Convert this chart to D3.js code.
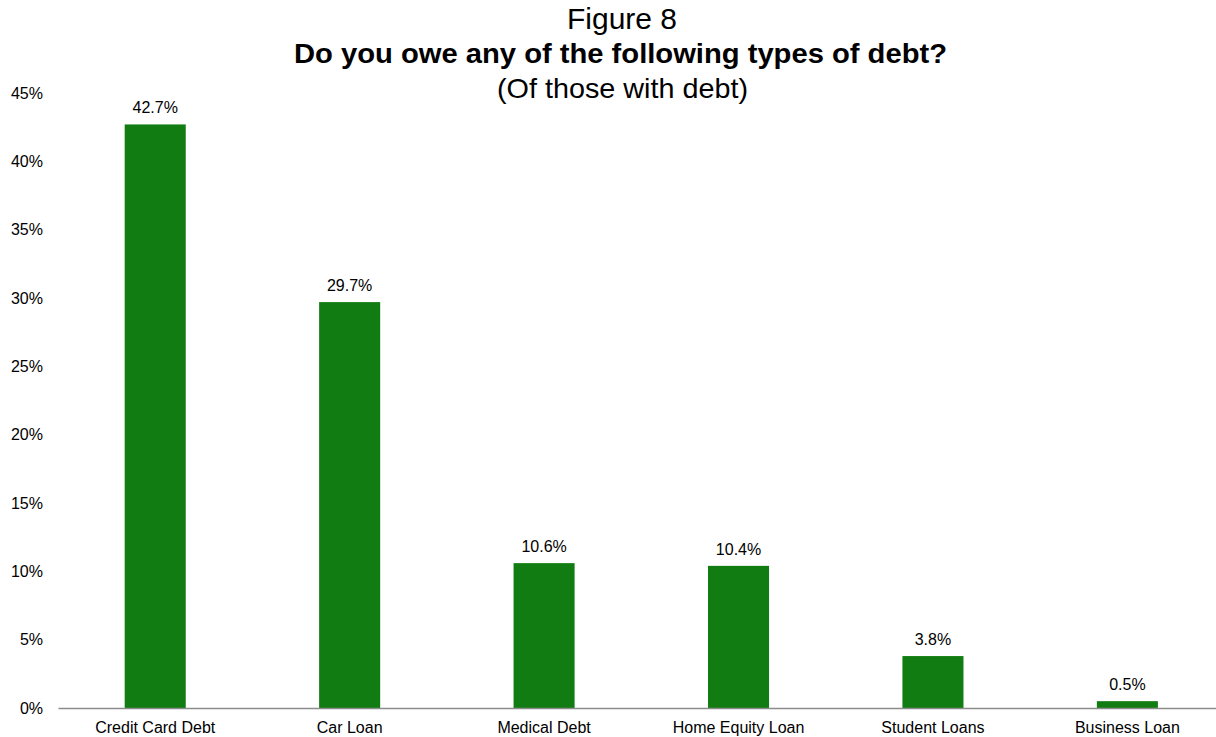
<!DOCTYPE html>
<html>
<head>
<meta charset="utf-8">
<script src="https://cdn.jsdelivr.net/npm/d3@7/dist/d3.min.js"></script>
<style>
  html, body { margin: 0; padding: 0; background: #ffffff; }
  svg { display: block; font-family: "Liberation Sans", Arial, sans-serif; }
</style>
</head>
<body>
<svg id="chart" width="1216" height="737"></svg>
<script>
// Debt types held by respondents who have debt
const categories = ["Credit Card Debt", "Car Loan", "Medical Debt", "Home Equity Loan", "Student Loans", "Business Loan"];
const shares = [42.7, 29.7, 10.6, 10.4, 3.8, 0.5];
const yTicks = [0, 5, 10, 15, 20, 25, 30, 35, 40, 45];
const titleLines = ["Figure 8", "Do you owe any of the following types of debt?", "(Of those with debt)"];

const svg = d3.select("#chart");
const plot = { left: 58, right: 1224.6, top: 93, bottom: 708 };

const x = d3.scaleBand()
  .domain(categories)
  .range([plot.left, plot.right])
  .paddingInner(0.686)
  .paddingOuter(0.343);

const y = d3.scaleLinear()
  .domain([0, 45])
  .range([plot.bottom, plot.top]);

// Y axis: labels only
const yAxis = svg.append("g")
  .attr("transform", `translate(${plot.left},0)`)
  .call(d3.axisLeft(y).tickValues(yTicks).tickSize(0).tickPadding(15).tickFormat(d => d + "%"));
yAxis.select(".domain").remove();
yAxis.selectAll("text")
  .attr("font-size", 16)
  .attr("font-family", "Liberation Sans, Arial, sans-serif")
  .attr("fill", "#000");

// Bars
svg.append("g").selectAll("rect")
  .data(categories)
  .join("rect")
  .attr("x", d => x(d))
  .attr("width", x.bandwidth())
  .attr("y", (d, i) => y(shares[i]))
  .attr("height", (d, i) => y(0) - y(shares[i]))
  .attr("fill", "#117c11");

// Value labels
svg.append("g").selectAll("text")
  .data(categories)
  .join("text")
  .attr("x", d => x(d) + x.bandwidth() / 2)
  .attr("y", (d, i) => y(shares[i]) - 11)
  .attr("text-anchor", "middle")
  .attr("font-size", 16)
  .attr("fill", "#000")
  .text((d, i) => shares[i].toFixed(1) + "%");

// X axis: baseline and category labels
const xAxis = svg.append("g")
  .attr("transform", `translate(0,${plot.bottom})`)
  .call(d3.axisBottom(x).tickSize(0).tickPadding(14));
xAxis.select(".domain")
  .attr("stroke", "#8c8c8c")
  .attr("stroke-width", 1.3);
xAxis.selectAll("text")
  .attr("font-size", 16)
  .attr("font-family", "Liberation Sans, Arial, sans-serif")
  .attr("fill", "#000");

// Title block
const title = svg.append("g").attr("text-anchor", "middle");
title.append("text").attr("x", 622).attr("y", 29).attr("font-size", 29)
  .attr("textLength", 110).attr("lengthAdjust", "spacingAndGlyphs").text(titleLines[0]);
title.append("text").attr("x", 620.5).attr("y", 63).attr("font-size", 28).attr("font-weight", "bold")
  .attr("textLength", 653).attr("lengthAdjust", "spacingAndGlyphs").text(titleLines[1]);
title.append("text").attr("x", 622.5).attr("y", 98).attr("font-size", 28)
  .attr("textLength", 251).attr("lengthAdjust", "spacingAndGlyphs").text(titleLines[2]);
</script>
</body>
</html>
